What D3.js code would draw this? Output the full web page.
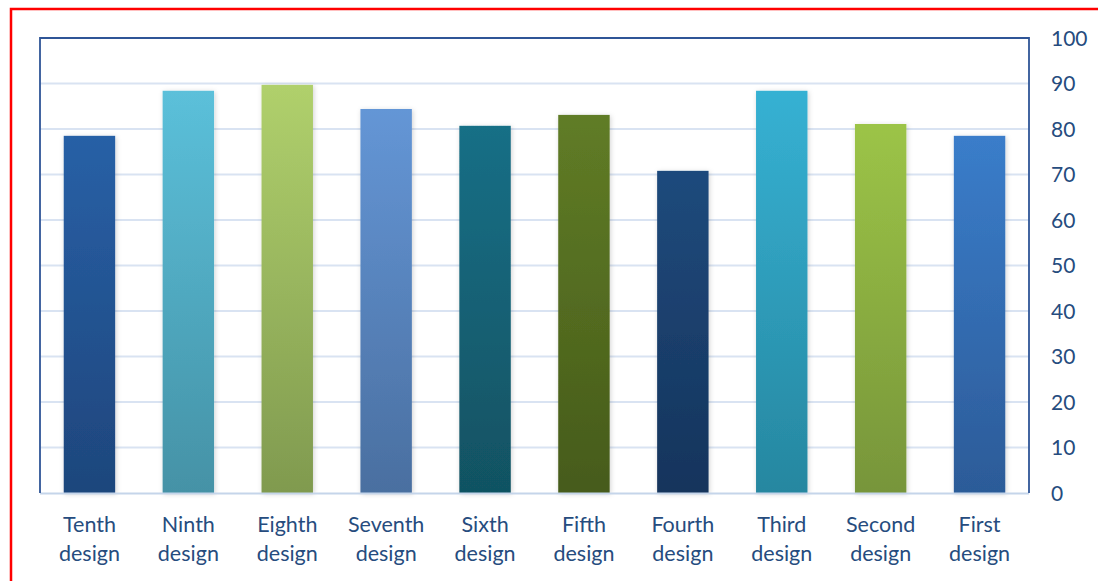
<!DOCTYPE html>
<html><head><meta charset="utf-8">
<script src="https://cdn.jsdelivr.net/npm/d3@7/dist/d3.min.js"></script>
<style>body{margin:0;background:#fff}svg{display:block}text{font-family:Lato,"Open Sans",sans-serif}</style>
</head><body>
<script>
const categories = ["Tenth design","Ninth design","Eighth design","Seventh design","Sixth design","Fifth design","Fourth design","Third design","Second design","First design"];
const values = [78.5, 88.4, 89.7, 84.4, 80.7, 83.1, 70.8, 88.4, 81.1, 78.5];
const topColors = ["#2860a6","#5bc0da","#b0d06c","#6496d6","#186f86","#607c26","#1f4a7c","#36b1d3","#9cc447","#3a7dca"];
const bottomColors = ["#1e467c","#4592a6","#809a4f","#4a6fa0","#115262","#465b1a","#15345c","#2687a0","#77953a","#2c5b98"];
const yTicks = [0,10,20,30,40,50,60,70,80,90,100];

const W = 1098, H = 581;
const svg = d3.select("body").append("svg").attr("width", W).attr("height", H);
const defs = svg.append("defs");
const f = defs.append("filter").attr("id","sh").attr("x","-30%").attr("y","-10%").attr("width","160%").attr("height","120%");
f.append("feDropShadow").attr("dx",1).attr("dy",1).attr("stdDeviation",2.5).attr("flood-color","#000").attr("flood-opacity",0.18);

categories.forEach((c,i)=>{
  const g = defs.append("linearGradient").attr("id","g"+i).attr("x1",0).attr("y1",0).attr("x2",0).attr("y2",1);
  g.append("stop").attr("offset","0%").attr("stop-color",topColors[i]);
  g.append("stop").attr("offset","100%").attr("stop-color",bottomColors[i]);
});

// red outer border
svg.append("rect").attr("x",11).attr("y",9).attr("width",W+20).attr("height",H+20)
  .attr("fill","none").attr("stroke","#ff0000").attr("stroke-width",2.5);

const pLeft = 40, pRight = 1029, pTop = 38, pBottom = 493;
const x = d3.scaleBand().domain(categories).range([pLeft,pRight]).paddingInner(0.48).paddingOuter(0.24);
const y = d3.scaleLinear().domain([0,100]).range([pBottom,pTop]);

// gridlines
svg.append("g").selectAll("line").data(yTicks.filter(t=>t>0 && t<100)).join("line")
  .attr("x1",pLeft).attr("x2",pRight).attr("y1",d=>y(d)).attr("y2",d=>y(d))
  .attr("stroke","#d9e3f2").attr("stroke-width",2);

// bars
svg.append("g").selectAll("rect").data(values).join("rect")
  .attr("x",(d,i)=>x(categories[i])).attr("width",x.bandwidth())
  .attr("y",d=>y(d)).attr("height",d=>pBottom-y(d))
  .attr("fill",(d,i)=>`url(#g${i})`).attr("filter","url(#sh)");

// x axis line (light)
svg.append("line").attr("x1",pLeft).attr("x2",pRight).attr("y1",pBottom+0.5).attr("y2",pBottom+0.5)
  .attr("stroke","#c5d5ea").attr("stroke-width",2);

// frame
svg.append("path").attr("d",`M${pLeft},${pBottom}V${pTop}H${pRight}V${pBottom}`)
  .attr("fill","none").attr("stroke","#2f5597").attr("stroke-width",1.8);

// y axis on right
const yAxis = d3.axisRight(y).tickValues(yTicks).tickSize(0).tickPadding(0);
const ya = svg.append("g").attr("transform",`translate(1051,0)`).call(yAxis);
ya.select(".domain").remove();
ya.selectAll("text").attr("font-size",21).attr("fill","#264c7e").attr("dy","0.35em");

// x axis labels
const xAxis = d3.axisBottom(x).tickSize(0).tickFormat("");
const xa = svg.append("g").attr("transform",`translate(0,${pBottom})`).call(xAxis);
xa.select(".domain").remove();
xa.selectAll(".tick").each(function(d){
  const parts = d.split(" ");
  const t = d3.select(this).append("text").attr("fill","#264c7e").attr("font-size",21.5).attr("text-anchor","middle");
  parts.forEach((p,k)=>t.append("tspan").attr("x",0).attr("y",39+k*29).text(p));
});
</script>
</body></html>
